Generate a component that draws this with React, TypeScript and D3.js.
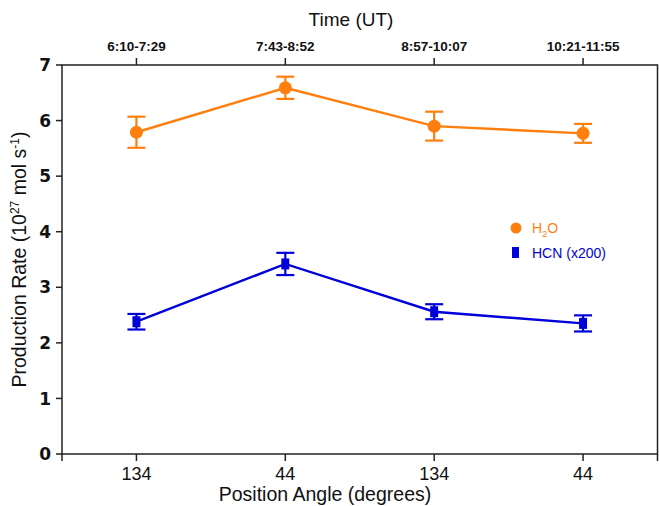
import React from 'react';
import * as d3 from 'd3';

// slot index along the x axis
const slots = [1, 2, 3, 4];
const angleLabels = ['134', '44', '134', '44'];
const timeLabels = ['6:10-7:29', '7:43-8:52', '8:57-10:07', '10:21-11:55'];
const h2oRate = [5.79, 6.59, 5.9, 5.77];
const h2oErr = [0.28, 0.2, 0.26, 0.17];
const hcnRate = [2.38, 3.42, 2.56, 2.35];
const hcnErr = [0.14, 0.2, 0.135, 0.145];
const yTicks = [0, 1, 2, 3, 4, 5, 6, 7];

const ORANGE = '#ff7f0e';
const BLUE = '#0000d8';

export default function App() {
    const width = 659;
    const height = 506;
    const margin = {top: 65, right: 1, bottom: 52, left: 62};
    const x = d3.scaleLinear().domain([0.5, 4.5]).range([margin.left, width - margin.right - 0.5]);
    const y = d3.scaleLinear().domain([0, 7]).range([height - margin.bottom, margin.top]);
    const x0 = x(0.5), x1 = x(4.5), yTop = y(7), yBot = y(0);

    const line = d3.line<number>()
        .x((d, i) => x(slots[i]))
        .y(d => y(d));

    const tickFont = '"Liberation Sans", Arial, sans-serif';

    const errBars = (vals: number[], errs: number[], color: string) =>
        vals.map((v, i) => {
            const cx = x(slots[i]);
            return (
                <g key={i} stroke={color} strokeWidth={2.2}>
                    <line x1={cx} x2={cx} y1={y(v - errs[i])} y2={y(v + errs[i])}/>
                    <line x1={cx - 9} x2={cx + 9} y1={y(v - errs[i])} y2={y(v - errs[i])}/>
                    <line x1={cx - 9} x2={cx + 9} y1={y(v + errs[i])} y2={y(v + errs[i])}/>
                </g>
            );
        });

    return (
        <svg width={width} height={height} style={{position: 'absolute', left: 0, top: 0}}>
            <rect x={0} y={0} width={width} height={height} fill="#fff"/>
            {/* frame */}
            <rect x={x0} y={yTop} width={x1 - x0} height={yBot - yTop} fill="none" stroke="#222" strokeWidth={1.5}/>

            {/* y axis */}
            {yTicks.map(t => (
                <g key={t}>
                    <line x1={x0 - 6} x2={x0} y1={y(t)} y2={y(t)} stroke="#222" strokeWidth={1.5}/>
                    <text x={x0 - 11} y={y(t)} dy="0.36em" textAnchor="end" fontFamily='"DejaVu Sans", sans-serif'
                          fontWeight="bold" fontSize={17} fill="#111">{t}</text>
                </g>
            ))}
            <text transform={`translate(26,${(yTop + yBot) / 2}) rotate(-90)`} textAnchor="middle"
                  fontFamily={tickFont} fontSize={19.5} fill="#111">
                Production Rate (10<tspan dy={-7} fontSize={12}>27</tspan><tspan dy={7}> mol s</tspan>
                <tspan dy={-7} fontSize={12}>-1</tspan><tspan dy={7}>)</tspan>
            </text>

            {/* bottom axis */}
            {[0.5, ...slots, 4.5].map((s, i) => (
                <line key={i} x1={x(s)} x2={x(s)} y1={yBot} y2={yBot + 7} stroke="#222" strokeWidth={1.5}/>
            ))}
            {slots.map((s, i) => (
                <text key={i} x={x(s)} y={yBot + 26} textAnchor="middle" fontFamily={tickFont}
                      fontSize={18} fill="#111">{angleLabels[i]}</text>
            ))}
            <text x={325} y={501} textAnchor="middle" fontFamily={tickFont} fontSize={19.5}
                  fill="#111">Position Angle (degrees)</text>

            {/* top axis */}
            {slots.map((s, i) => (
                <g key={i}>
                    <line x1={x(s)} x2={x(s)} y1={yTop} y2={yTop - 7} stroke="#222" strokeWidth={1.5}/>
                    <text x={x(s)} y={yTop - 14} textAnchor="middle" fontFamily={tickFont} fontWeight="bold"
                          fontSize={13.5} fill="#111">{timeLabels[i]}</text>
                </g>
            ))}
            <text x={351} y={26} textAnchor="middle" fontFamily={tickFont} fontSize={19}
                  fill="#111">Time (UT)</text>

            {/* H2O */}
            <path d={line(h2oRate) ?? ''} fill="none" stroke={ORANGE} strokeWidth={2.4}/>
            {errBars(h2oRate, h2oErr, ORANGE)}
            {h2oRate.map((v, i) => (
                <circle key={i} cx={x(slots[i])} cy={y(v)} r={6.5} fill={ORANGE}/>
            ))}

            {/* HCN */}
            <path d={line(hcnRate) ?? ''} fill="none" stroke={BLUE} strokeWidth={2.4}/>
            {errBars(hcnRate, hcnErr, BLUE)}
            {hcnRate.map((v, i) => (
                <rect key={i} x={x(slots[i]) - 4} y={y(v) - 5.5} width={8} height={11} fill={BLUE}/>
            ))}

            {/* legend */}
            <circle cx={516} cy={228} r={5.5} fill={ORANGE}/>
            <text x={532} y={233} fontFamily={tickFont} fontSize={14} fill={ORANGE}>
                H<tspan dy={4} fontSize={9}>2</tspan><tspan dy={-4}>O</tspan>
            </text>
            <rect x={512} y={247} width={7} height={11} fill={BLUE}/>
            <text x={532} y={258} fontFamily={tickFont} fontSize={14} fill={BLUE}>HCN (x200)</text>
        </svg>
    );
}
